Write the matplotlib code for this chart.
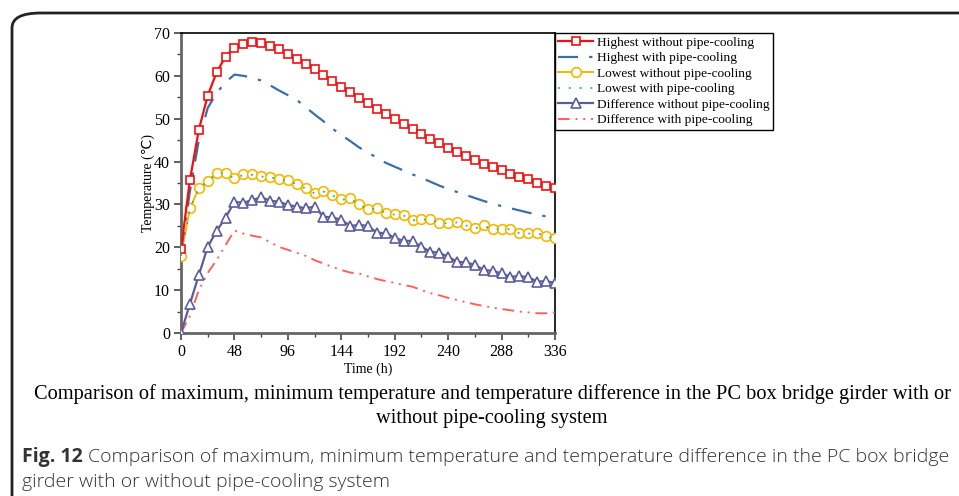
"""
Temperatur i PC-kassebjelke med/uten rørkjøling
"""

import matplotlib.pyplot as plt
from matplotlib.patches import FancyBboxPatch
from matplotlib.ticker import MultipleLocator

# ── Data ─────────────────────────────────────────────────────────
time_h = list(range(0, 337, 8))

high_no_pipe = [19.5, 35.7, 47.4, 55.4, 60.8, 64.5, 66.6, 67.4, 67.8, 67.6,
                67.0, 66.2, 65.1, 64.0, 62.8, 61.5, 60.1, 58.9, 57.5, 56.2,
                54.9, 53.6, 52.3, 51.1, 49.9, 48.7, 47.5, 46.4, 45.3, 44.3,
                43.2, 42.3, 41.3, 40.4, 39.5, 38.7, 38.0, 37.2, 36.5, 35.9,
                35.1, 34.4, 33.8]

high_pipe = [19.0, 33.0, 45.0, 52.5, 56.0, 58.5, 60.3, 60.0, 59.6, 58.9,
             57.8, 56.6, 55.5, 54.4, 52.7, 51.0, 49.4, 47.7, 46.2, 44.8,
             43.3, 42.1, 40.9, 39.7, 38.8, 37.9, 37.0, 36.2, 35.3, 34.4,
             33.6, 32.9, 32.2, 31.5, 30.8, 30.2, 29.6, 29.1, 28.6, 28.1,
             27.6, 27.2, 26.9]

low_no_pipe = [18.0, 29.1, 33.8, 35.5, 37.3, 37.4, 36.1, 37.0, 37.0, 36.6,
               36.5, 35.9, 35.7, 34.8, 33.8, 32.7, 33.1, 32.2, 31.2, 31.4,
               30.1, 28.9, 29.2, 28.1, 27.7, 27.5, 26.4, 26.5, 26.7, 25.7,
               25.7, 25.9, 25.2, 24.5, 25.1, 24.3, 24.3, 24.3, 23.4, 23.3,
               23.4, 22.6, 22.2]

low_pipe = [18.0, 29.0, 33.7, 35.4, 37.2, 37.3, 36.0, 36.9, 36.9, 36.5,
            36.4, 35.8, 35.6, 34.7, 33.7, 32.6, 33.0, 32.1, 31.1, 31.3,
            30.0, 28.8, 29.1, 28.0, 27.6, 27.4, 26.3, 26.4, 26.6, 25.6,
            25.6, 25.8, 25.1, 24.4, 25.0, 24.2, 24.2, 24.2, 23.3, 23.2,
            23.3, 22.5, 22.1]

diff_no_pipe = [0.0, 6.8, 13.5, 20.1, 23.8, 26.9, 30.6, 30.4, 31.0, 31.7,
                30.9, 30.6, 29.9, 29.5, 29.1, 29.5, 27.1, 27.0, 26.4, 25.0,
                25.2, 25.0, 23.4, 23.3, 22.2, 21.5, 21.5, 20.1, 19.0, 18.7,
                17.8, 16.6, 16.5, 15.9, 14.7, 14.5, 13.9, 13.1, 13.3, 13.0,
                12.0, 12.1, 11.7]

diff_pipe = [0.0, 4.0, 10.0, 14.0, 17.0, 20.5, 23.9, 23.2, 22.7, 22.3,
             21.2, 20.1, 19.4, 18.7, 18.0, 17.0, 16.2, 15.4, 14.7, 14.1,
             13.9, 13.2, 12.6, 12.1, 11.7, 11.2, 10.8, 10.0, 9.3, 8.8,
             8.2, 7.7, 7.2, 6.7, 6.3, 5.9, 5.6, 5.3, 5.0, 4.8,
             4.6, 4.6, 4.8]

SERIF = ["Liberation Serif", "DejaVu Sans"]
plt.rcParams["font.family"] = SERIF

fig = plt.figure(figsize=(9.59, 4.96), dpi=100)
W, H = 959, 496
ax = fig.add_axes([181 / W, 1 - 333 / H, 374 / W, 300 / H])

# ── Kurver ───────────────────────────────────────────────────────
ax.plot(time_h, high_no_pipe, color="#f01010", lw=1.6, marker="s", ms=6.3,
        mfc="white", mec="#f01010", mew=1.2, label="Highest without pipe-cooling", zorder=5)
ax.plot(time_h, high_pipe, color="#3b6fa6", lw=1.6, ls=(0, (9, 5, 1.5, 5)),
        label="Highest with pipe-cooling", zorder=4)
ax.plot(time_h, low_no_pipe, color="#f5b800", lw=1.4, marker="o", ms=7,
        mfc="white", mec="#f5b800", mew=1.2, label="Lowest without pipe-cooling", zorder=3)
ax.plot(time_h, low_pipe, color="#2db36b", lw=1.3, ls=(0, (1, 5)),
        label="Lowest with pipe-cooling", zorder=4)
ax.plot(time_h, diff_no_pipe, color="#5c5c9c", lw=1.6, marker="^", ms=6.5,
        mfc="white", mec="#5c5c9c", mew=1.2, label="Difference without pipe-cooling", zorder=5)
ax.plot(time_h, diff_pipe, color="#ff5f5f", lw=1.4, ls=(0, (6, 3, 1, 3, 1, 3)),
        label="Difference with pipe-cooling", zorder=4)

# ── Aksar ────────────────────────────────────────────────────────
ax.set_xlim(0, 336)
ax.set_ylim(0, 70)
ax.xaxis.set_major_locator(MultipleLocator(48))
ax.xaxis.set_minor_locator(MultipleLocator(24))
ax.yaxis.set_major_locator(MultipleLocator(10))
ax.yaxis.set_minor_locator(MultipleLocator(5))
ax.tick_params(which="major", direction="out", length=5, width=1.2,
               labelsize=11.5, color="#444444", pad=3)
ax.tick_params(which="minor", direction="out", length=3, width=1.0, color="#444444")
for side in ("left", "bottom"):
    ax.spines[side].set_color("#666666")
    ax.spines[side].set_linewidth(2.0)
for side in ("top", "right"):
    ax.spines[side].set_color("black")
    ax.spines[side].set_linewidth(1.2)
ax.set_xlabel("Time (h)", fontsize=10, labelpad=2)
ax.set_ylabel("Temperature (℃)", fontsize=10, labelpad=-1)

leg = ax.legend(loc="upper left", bbox_to_anchor=(555 / W, 1 - 33 / H),
                bbox_transform=fig.transFigure, borderaxespad=0, fontsize=9.6,
                handlelength=2.6, handletextpad=0.3, labelspacing=0.24,
                borderpad=0.25, fancybox=False, framealpha=1)
leg.get_frame().set_edgecolor("black")
leg.get_frame().set_linewidth(1.0)

# ── Ramme og tekst ───────────────────────────────────────────────
frame = FancyBboxPatch((12 / W, -0.2), 1.2, 1 - 13 / H + 0.2,
                       boxstyle="round,pad=0,rounding_size=0.03",
                       transform=fig.transFigure, fill=False,
                       edgecolor="#222222", linewidth=2.0, clip_on=False)
fig.patches.append(frame)

fig.text(492 / W, 1 - 394 / H,
         "Comparison of maximum, minimum temperature and temperature difference in the PC box bridge girder with or",
         ha="center", va="center", fontsize=14.7, color="black")
fig.text(492 / W, 1 - 419 / H, "without pipe-cooling system",
         ha="center", va="center", fontsize=14.7, color="black")

fig.canvas.draw()
r = fig.canvas.get_renderer()
t1 = fig.text(22 / W, 1 - 457 / H, "Fig. 12", ha="left", va="center",
              fontsize=14, fontweight="bold", family="Open Sans", color="#333333")
bb = t1.get_window_extent(renderer=r)
fig.text(bb.x1 / W + 5 / W, 1 - 457 / H,
         "Comparison of maximum, minimum temperature and temperature difference in the PC box bridge",
         ha="left", va="center", fontsize=14, family="Open Sans",
         fontweight="light", color="#333333")
fig.text(22 / W, 1 - 482 / H, "girder with or without pipe-cooling system",
         ha="left", va="center", fontsize=14, family="Open Sans",
         fontweight="light", color="#333333")

fig.savefig("out.png", dpi=100, facecolor="white")
plt.close()
